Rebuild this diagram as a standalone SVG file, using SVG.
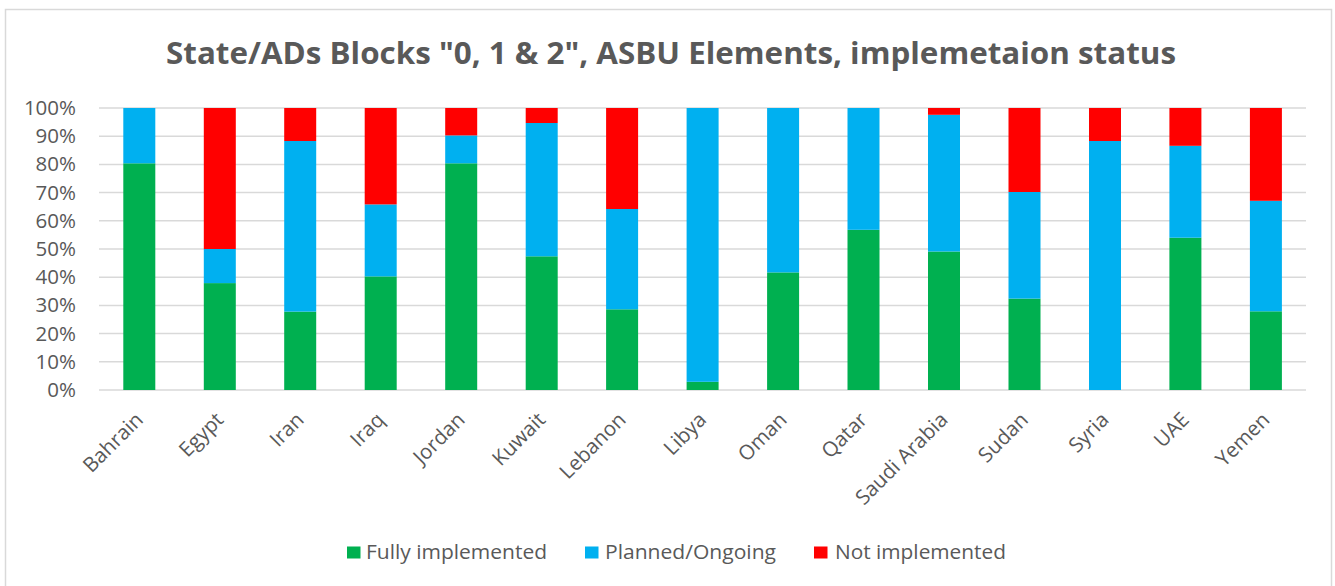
<svg xmlns="http://www.w3.org/2000/svg" width="1335" height="586" viewBox="0 0 1335 586">
<style>
  .txt{font-family:"Open Sans","Liberation Sans",sans-serif;fill:#595959}
  .title{font-size:31px;font-weight:bold}
  .ax{font-size:20.5px;text-anchor:end}
  .cat{font-size:20.5px;text-anchor:end}
  .leg{font-size:20.5px}
  .grid line{stroke:#D9D9D9;stroke-width:1.5}
  .g{fill:#00B050}
  .b{fill:#00B0F0}
  .r{fill:#FF0000}
</style>
<rect x="0" y="0" width="1335" height="586" fill="#FFFFFF"/>
<rect x="5.5" y="9.5" width="1326" height="600" fill="#FFFFFF" stroke="#D9D9D9" stroke-width="1.5"/>
<text class="txt title" x="166" y="64" textLength="1010" lengthAdjust="spacingAndGlyphs">State/ADs Blocks "0, 1 &amp; 2", ASBU Elements, implemetaion status</text>
<g id="gridlines" class="grid">
  <line x1="99" y1="108" x2="1306" y2="108"/>
  <line x1="99" y1="136.2" x2="1306" y2="136.2"/>
  <line x1="99" y1="164.4" x2="1306" y2="164.4"/>
  <line x1="99" y1="192.6" x2="1306" y2="192.6"/>
  <line x1="99" y1="220.8" x2="1306" y2="220.8"/>
  <line x1="99" y1="249" x2="1306" y2="249"/>
  <line x1="99" y1="277.2" x2="1306" y2="277.2"/>
  <line x1="99" y1="305.4" x2="1306" y2="305.4"/>
  <line x1="99" y1="333.6" x2="1306" y2="333.6"/>
  <line x1="99" y1="361.8" x2="1306" y2="361.8"/>
  <line x1="99" y1="390" x2="1306" y2="390"/>
</g>
<g id="y-axis">
  <text class="txt ax" x="76" y="115">100%</text>
  <text class="txt ax" x="76" y="143.2">90%</text>
  <text class="txt ax" x="76" y="171.4">80%</text>
  <text class="txt ax" x="76" y="199.6">70%</text>
  <text class="txt ax" x="76" y="227.8">60%</text>
  <text class="txt ax" x="76" y="256">50%</text>
  <text class="txt ax" x="76" y="284.2">40%</text>
  <text class="txt ax" x="76" y="312.4">30%</text>
  <text class="txt ax" x="76" y="340.6">20%</text>
  <text class="txt ax" x="76" y="368.8">10%</text>
  <text class="txt ax" x="76" y="397">0%</text>
</g>
<g id="bahrain">
  <rect class="g" x="123.3" y="163.3" width="32" height="226.7"/>
  <rect class="b" x="123.3" y="108" width="32" height="55.3"/>
  <text class="txt cat" transform="translate(144.3,421) rotate(-45)">Bahrain</text>
</g>
<g id="egypt">
  <rect class="g" x="203.8" y="283.1" width="32" height="106.9"/>
  <rect class="b" x="203.8" y="249" width="32" height="34.1"/>
  <rect class="r" x="203.8" y="108" width="32" height="141"/>
  <text class="txt cat" transform="translate(224.8,421) rotate(-45)">Egypt</text>
</g>
<g id="iran">
  <rect class="g" x="284.2" y="311.6" width="32" height="78.4"/>
  <rect class="b" x="284.2" y="141" width="32" height="170.6"/>
  <rect class="r" x="284.2" y="108" width="32" height="33"/>
  <text class="txt cat" transform="translate(305.2,421) rotate(-45)">Iran</text>
</g>
<g id="iraq">
  <rect class="g" x="364.7" y="276.4" width="32" height="113.6"/>
  <rect class="b" x="364.7" y="204.4" width="32" height="72"/>
  <rect class="r" x="364.7" y="108" width="32" height="96.4"/>
  <text class="txt cat" transform="translate(385.7,421) rotate(-45)">Iraq</text>
</g>
<g id="jordan">
  <rect class="g" x="445.2" y="163.3" width="32" height="226.7"/>
  <rect class="b" x="445.2" y="135.4" width="32" height="27.9"/>
  <rect class="r" x="445.2" y="108" width="32" height="27.4"/>
  <text class="txt cat" transform="translate(466.2,421) rotate(-45)">Jordan</text>
</g>
<g id="kuwait">
  <rect class="g" x="525.7" y="256.3" width="32" height="133.7"/>
  <rect class="b" x="525.7" y="123" width="32" height="133.3"/>
  <rect class="r" x="525.7" y="108" width="32" height="15"/>
  <text class="txt cat" transform="translate(546.7,421) rotate(-45)">Kuwait</text>
</g>
<g id="lebanon">
  <rect class="g" x="606.1" y="309.3" width="32" height="80.7"/>
  <rect class="b" x="606.1" y="209" width="32" height="100.3"/>
  <rect class="r" x="606.1" y="108" width="32" height="101"/>
  <text class="txt cat" transform="translate(627.1,421) rotate(-45)">Lebanon</text>
</g>
<g id="libya">
  <rect class="g" x="686.6" y="381.8" width="32" height="8.2"/>
  <rect class="b" x="686.6" y="108" width="32" height="273.8"/>
  <text class="txt cat" transform="translate(707.6,421) rotate(-45)">Libya</text>
</g>
<g id="oman">
  <rect class="g" x="767.1" y="272.4" width="32" height="117.6"/>
  <rect class="b" x="767.1" y="108" width="32" height="164.4"/>
  <text class="txt cat" transform="translate(788.1,421) rotate(-45)">Oman</text>
</g>
<g id="qatar">
  <rect class="g" x="847.5" y="229.8" width="32" height="160.2"/>
  <rect class="b" x="847.5" y="108" width="32" height="121.8"/>
  <text class="txt cat" transform="translate(868.5,421) rotate(-45)">Qatar</text>
</g>
<g id="saudi-arabia">
  <rect class="g" x="928" y="251.5" width="32" height="138.5"/>
  <rect class="b" x="928" y="114.8" width="32" height="136.7"/>
  <rect class="r" x="928" y="108" width="32" height="6.8"/>
  <text class="txt cat" transform="translate(949,421) rotate(-45)">Saudi Arabia</text>
</g>
<g id="sudan">
  <rect class="g" x="1008.5" y="298.6" width="32" height="91.4"/>
  <rect class="b" x="1008.5" y="192" width="32" height="106.6"/>
  <rect class="r" x="1008.5" y="108" width="32" height="84"/>
  <text class="txt cat" transform="translate(1029.5,421) rotate(-45)">Sudan</text>
</g>
<g id="syria">
  <rect class="b" x="1089" y="141" width="32" height="249"/>
  <rect class="r" x="1089" y="108" width="32" height="33"/>
  <text class="txt cat" transform="translate(1110,421) rotate(-45)">Syria</text>
</g>
<g id="uae">
  <rect class="g" x="1169.4" y="237.7" width="32" height="152.3"/>
  <rect class="b" x="1169.4" y="145.8" width="32" height="91.9"/>
  <rect class="r" x="1169.4" y="108" width="32" height="37.8"/>
  <text class="txt cat" transform="translate(1190.4,421) rotate(-45)">UAE</text>
</g>
<g id="yemen">
  <rect class="g" x="1249.9" y="311.3" width="32" height="78.7"/>
  <rect class="b" x="1249.9" y="200.8" width="32" height="110.5"/>
  <rect class="r" x="1249.9" y="108" width="32" height="92.8"/>
  <text class="txt cat" transform="translate(1270.9,421) rotate(-45)">Yemen</text>
</g>
<g id="connectors"></g>
<g id="legend">
  <rect class="g" x="347" y="546.5" width="13.5" height="12"/>
  <text class="txt leg" x="366" y="558.5" textLength="181" lengthAdjust="spacingAndGlyphs">Fully implemented</text>
  <rect class="b" x="585" y="546.5" width="13.5" height="12"/>
  <text class="txt leg" x="605" y="558.5" textLength="171" lengthAdjust="spacingAndGlyphs">Planned/Ongoing</text>
  <rect class="r" x="814" y="546.5" width="13.5" height="12"/>
  <text class="txt leg" x="835" y="558.5" textLength="171" lengthAdjust="spacingAndGlyphs">Not implemented</text>
</g>
</svg>
